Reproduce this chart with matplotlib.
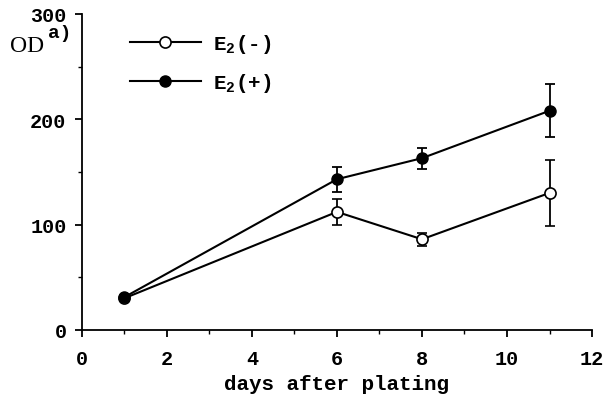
import matplotlib
matplotlib.use("Agg")
import matplotlib.pyplot as plt
from matplotlib.ticker import MultipleLocator

# data
days = [1, 6, 8, 11]
od_minus = [30, 112, 86, 130]
err_minus = [0, 12, 6, 31]
od_plus = [31, 143, 163, 208]
err_plus = [0, 12, 10, 25]

x_ticks = [0, 2, 4, 6, 8, 10, 12]
y_ticks = [0, 100, 200, 300]

plt.rcParams["font.family"] = "Liberation Mono"
plt.rcParams["font.weight"] = "bold"
plt.rcParams["mathtext.fontset"] = "custom"
plt.rcParams["mathtext.rm"] = "Liberation Mono:bold"
plt.rcParams["mathtext.it"] = "Liberation Mono:bold"

fig = plt.figure(figsize=(6.06, 4.02), dpi=100)
ax = fig.add_axes([0.135, 0.177, 0.842, 0.786])

ax.errorbar(days, od_minus, yerr=err_minus, color="black", lw=1.5,
            marker="o", ms=8, mfc="white", mec="black", mew=1.2,
            capsize=3.5, elinewidth=1.3, capthick=1.3,
            label=r"$\mathrm{E}_2$(-)", zorder=3)
ax.errorbar(days, od_plus, yerr=err_plus, color="black", lw=1.5,
            marker="o", ms=8, mfc="black", mec="black",
            capsize=3.5, elinewidth=1.3, capthick=1.3,
            label=r"$\mathrm{E}_2$(+)", zorder=4)

ax.set_xlim(0, 12)
ax.set_ylim(0, 300)
ax.set_xticks(x_ticks)
ax.set_yticks(y_ticks)
ax.xaxis.set_minor_locator(MultipleLocator(1))
ax.yaxis.set_minor_locator(MultipleLocator(50))

for side in ["top", "right"]:
    ax.spines[side].set_visible(False)
for side in ["left", "bottom"]:
    ax.spines[side].set_linewidth(1.3)

ax.tick_params(which="major", direction="out", length=5, width=1.3,
               labelsize=14.5)
ax.tick_params(axis="x", which="major", pad=9)
ax.tick_params(axis="y", which="major", pad=6)
ax.tick_params(which="minor", direction="out", length=3, width=1.0)

ax.set_xlabel("days after plating", fontsize=15, fontweight="bold",
              labelpad=4)

fig.text(0.016, 0.885, "OD", fontsize=17, family="Liberation Serif",
         weight="normal", va="center", ha="left")
fig.text(0.08, 0.916, "a)", fontsize=14, va="center", ha="left")

# legend shows only the line + marker, not the error bars
handles, labels = ax.get_legend_handles_labels()
handles = [h[0] for h in handles]
leg = ax.legend(handles, labels, loc="upper left",
                bbox_to_anchor=(0.094, 0.942),
                frameon=False, handlelength=3.4, handletextpad=0.6,
                labelspacing=0.75, borderpad=0, borderaxespad=0,
                fontsize=15, numpoints=1)

fig.savefig("out.png", dpi=100)
